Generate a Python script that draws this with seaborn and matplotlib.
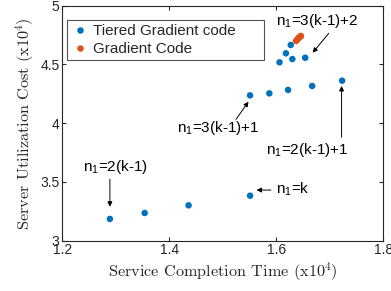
import matplotlib
matplotlib.use("Agg")
import matplotlib.pyplot as plt
import seaborn as sns
import pandas as pd

# Data
tiered_time = [1.289, 1.354, 1.436, 1.551, 1.551, 1.587, 1.622, 1.667, 1.723,
               1.606, 1.630, 1.654, 1.618, 1.627]
tiered_cost = [3.185, 3.236, 3.301, 3.383, 4.237, 4.254, 4.283, 4.317, 4.362,
               4.518, 4.546, 4.557, 4.595, 4.666]
grad_time = [1.637, 1.639, 1.640, 1.642, 1.643, 1.645, 1.646]
grad_cost = [4.700, 4.710, 4.718, 4.726, 4.732, 4.738, 4.742]
series_names = ["Tiered Gradient code", "Gradient Code"]
x_ticks = [1.2, 1.4, 1.6, 1.8]
x_ticklabels = ["1.2", "1.4", "1.6", "1.8"]
y_ticks = [3, 3.5, 4, 4.5, 5]
y_ticklabels = ["3", "3.5", "4", "4.5", "5"]

# annotations: (label, text position, arrow tail, arrow head, ha)
annotations = [
    (r"n$_{\mathsf{1}}$=3(k-1)+2", (1.6757, 4.835), (1.698, 4.765), (1.668, 4.600), "center"),
    (r"n$_{\mathsf{1}}$=3(k-1)+1", (1.4905, 3.928), (1.5247, 4.033), (1.548, 4.183), "center"),
    (r"n$_{\mathsf{1}}$=2(k-1)+1", (1.6585, 3.735), (1.722, 3.880), (1.722, 4.317), "center"),
    (r"n$_{\mathsf{1}}$=2(k-1)", (1.2987, 3.596), (1.289, 3.523), (1.289, 3.289), "center"),
    (r"n$_{\mathsf{1}}$=k", (1.5994, 3.403), (1.590, 3.431), (1.563, 3.431), "left"),
]

df = pd.DataFrame({
    "time": tiered_time + grad_time,
    "cost": tiered_cost + grad_cost,
    "series": [series_names[0]] * len(tiered_time) + [series_names[1]] * len(grad_time),
})

sns.set_theme(style="white")
plt.rcParams["font.family"] = ["Liberation Sans", "DejaVu Sans"]
plt.rcParams["mathtext.fontset"] = "custom"
plt.rcParams["mathtext.rm"] = "cmr10"
plt.rcParams["mathtext.sf"] = "Liberation Sans"
plt.rcParams["axes.unicode_minus"] = False

fig = plt.figure(figsize=(3.91, 2.91), dpi=100)
ax = fig.add_axes([0.1593, 0.1729, 0.9803 - 0.1593, 0.9804 - 0.1729])

palette = {series_names[0]: "#0072BD", series_names[1]: "#D95319"}
sns.scatterplot(data=df, x="time", y="cost", hue="series", palette=palette,
                s=22, linewidth=0, ax=ax, legend=True)

ax.set_xlim(1.2, 1.8)
ax.set_ylim(3, 5)
ax.set_xticks(x_ticks)
ax.set_xticklabels(x_ticklabels, fontsize=10)
ax.set_yticks(y_ticks)
ax.set_yticklabels(y_ticklabels, fontsize=10)
ax.tick_params(direction="in", length=3, width=0.8, colors="#262626",
               top=True, right=True, bottom=True, left=True, pad=2)
for sp in ax.spines.values():
    sp.set_visible(True)
    sp.set_color("#262626")
    sp.set_linewidth(0.8)

ax.set_xlabel(r"Service Completion Time (x10$^{4}$)", fontfamily="cmr10",
              fontsize=11.7, color="#262626", labelpad=2)
ax.set_ylabel(r"Server Utilization Cost (x10$^{4}$)", fontfamily="cmr10",
              fontsize=11.7, color="#262626", labelpad=3)

leg = ax.legend(loc="upper left", fontsize=11, frameon=True, fancybox=False,
                edgecolor="#262626", handletextpad=0.25, borderpad=0.25,
                labelspacing=0.3, handlelength=1.2, borderaxespad=0,
                mode="expand", bbox_to_anchor=(0.0156, 0.757, 0.612, 0.182))
leg.get_frame().set_linewidth(0.8)

arrow = dict(arrowstyle="-|>", lw=0.7, color="black", mutation_scale=7,
             shrinkA=0, shrinkB=0)
for label, tpos, tail, head, ha in annotations:
    ax.text(tpos[0], tpos[1], label, ha=ha, va="baseline", fontsize=11,
            color="black")
    ax.annotate("", xy=head, xytext=tail, arrowprops=dict(arrow))

fig.savefig("out.png", dpi=100)
